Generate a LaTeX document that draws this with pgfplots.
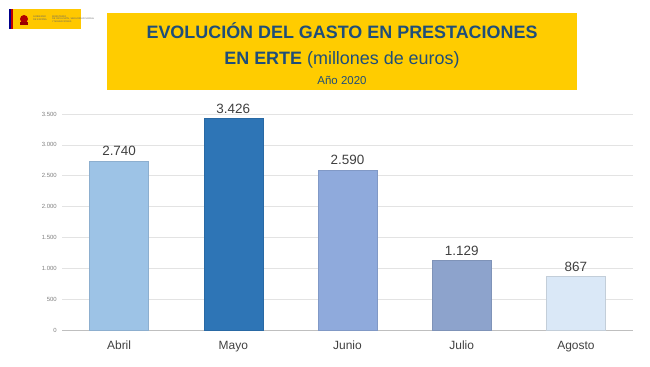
\documentclass[border=0pt]{standalone}
\usepackage{pgfplots}
\pgfplotsset{compat=1.18}
\usepackage{fontspec}
\setmainfont{Liberation Sans}
\definecolor{banner}{HTML}{FFCC00}
\definecolor{titleblue}{HTML}{1F4E79}
\definecolor{cAbril}{HTML}{9DC3E6}
\definecolor{cMayo}{HTML}{2E75B6}
\definecolor{cJunio}{HTML}{8FAADC}
\definecolor{cJulio}{HTML}{8DA3CC}
\definecolor{cAgosto}{HTML}{DAE8F7}
\definecolor{txt}{HTML}{404040}
\definecolor{ticktxt}{HTML}{7F7F7F}
\definecolor{gridc}{HTML}{E3E3E3}
\begin{document}
\begin{tikzpicture}[x=1bp,y=1bp]
\path[use as bounding box] (0,0) rectangle (650,366);
% logo
\fill[banner!95!orange] (9,337) rectangle (81,357);
\fill[blue!55!black] (9,337) rectangle (11,357);
\fill[red!75!black] (11,337) rectangle (13,357);
\fill[red!70!black] (24,347) circle (4);
\fill[red!60!black] (20,341) rectangle (28,344);
\node[anchor=west,font=\fontsize{2.4}{2.8}\selectfont,text=black!60,align=left,inner sep=0] at (33,348) {GOBIERNO\\DE ESPAÑA};
\node[anchor=west,font=\fontsize{2.4}{2.8}\selectfont,text=black!60,align=left,inner sep=0] at (52,347) {MINISTERIO\\DE INCLUSIÓN, SEGURIDAD SOCIAL\\Y MIGRACIONES};
% banner
\fill[banner] (107,276) rectangle (577,353);
\node[anchor=base,font=\fontsize{18}{20}\selectfont\bfseries,text=titleblue,inner sep=0] at (342,328) {EVOLUCIÓN DEL GASTO EN PRESTACIONES};
\node[anchor=base,font=\fontsize{18}{20}\selectfont,text=titleblue,inner sep=0] at (342,302) {\textbf{EN ERTE} (millones de euros)};
\node[anchor=base,font=\fontsize{11.5}{13}\selectfont,text=titleblue,inner sep=0] at (342,282) {Año 2020};
\begin{axis}[
  at={(62bp,36bp)}, anchor=south west,
  scale only axis, width=571bp, height=216bp,
  xmin=-0.5, xmax=4.5, ymin=0, ymax=3500,
  ybar, bar width=59bp, bar shift=0pt,
  axis x line*=bottom, axis y line*=left,
  x axis line style={-, draw=black!25, line width=0.6pt},
  y axis line style={draw=none},
  ymajorgrids, grid style={gridc, line width=0.5pt},
  ytick={0,500,...,3500},
  xtick={0,1,2,3,4},
  xticklabels={Abril,Mayo,Junio,Julio,Agosto},
  major tick length=0pt,
  /pgf/number format/.cd, 1000 sep={.}, assume math mode=true,
  /pgfplots/.cd,
  yticklabel style={font=\fontsize{6}{7}\selectfont, text=ticktxt, anchor=east, inner sep=0pt, xshift=-5bp},
  xticklabel style={font=\fontsize{12}{14}\selectfont, text=txt, anchor=base, yshift=-19bp, inner sep=0pt},
  nodes near coords,
  nodes near coords style={font=\fontsize{13.5}{15}\selectfont, text=txt, anchor=south, inner sep=0pt, yshift=5bp},
  clip=false,
]
\addplot[fill=cAbril, draw=cAbril!90!black, line width=0.3pt] coordinates {(0,2740)};
\addplot[fill=cMayo, draw=cMayo!90!black, line width=0.3pt] coordinates {(1,3426)};
\addplot[fill=cJunio, draw=cJunio!90!black, line width=0.3pt] coordinates {(2,2590)};
\addplot[fill=cJulio, draw=cJulio!90!black, line width=0.3pt] coordinates {(3,1129)};
\addplot[fill=cAgosto, draw=cAgosto!75!gray, line width=0.5pt] coordinates {(4,867)};
\end{axis}
\end{tikzpicture}
\end{document}
